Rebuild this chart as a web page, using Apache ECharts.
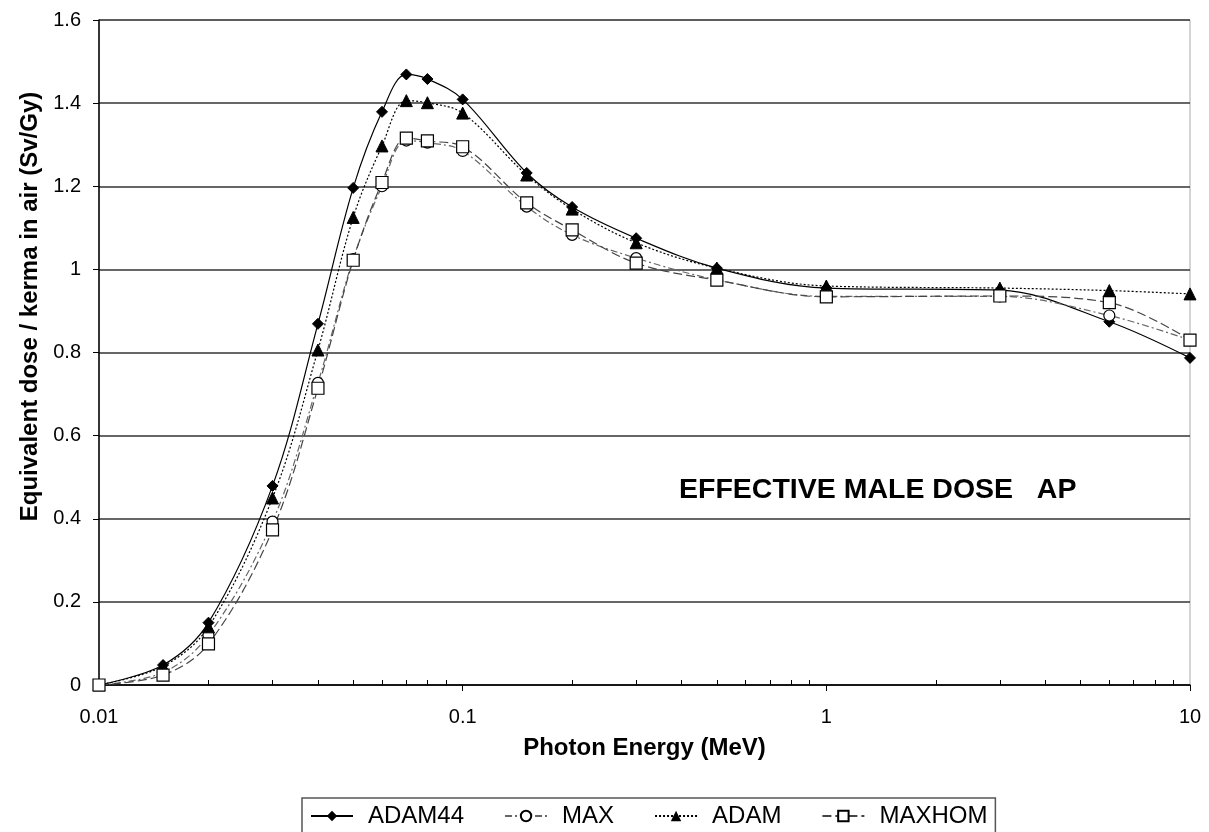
<!DOCTYPE html>
<html>
<head>
<meta charset="utf-8">
<script src="https://cdn.jsdelivr.net/npm/echarts@6/dist/echarts.min.js"></script>
<style>
  html, body { margin: 0; padding: 0; background: #fff; }
  #chart { width: 1209px; height: 832px; }
</style>
</head>
<body>
<div id="chart"></div>
<script>
  // photon energies (MeV)
  const energy = [0.01, 0.015, 0.02, 0.03, 0.04, 0.05, 0.06, 0.07, 0.08, 0.1, 0.15, 0.2, 0.3, 0.5, 1, 3, 6, 10];

  // equivalent dose / kerma in air (Sv/Gy)
  const adam44 = [0, 0.048, 0.15, 0.479, 0.869, 1.196, 1.379, 1.469, 1.458, 1.409, 1.232, 1.150, 1.075, 1.003, 0.955, 0.950, 0.874, 0.787];
  const max    = [0, 0.030, 0.120, 0.393, 0.727, 1.025, 1.200, 1.310, 1.305, 1.285, 1.151, 1.083, 1.027, 0.975, 0.935, 0.935, 0.889, 0.830];
  const adam   = [0, 0.045, 0.140, 0.450, 0.806, 1.125, 1.297, 1.406, 1.401, 1.376, 1.227, 1.145, 1.064, 1.003, 0.960, 0.955, 0.949, 0.941];
  const maxhom = [0, 0.024, 0.099, 0.373, 0.714, 1.022, 1.209, 1.316, 1.309, 1.295, 1.160, 1.095, 1.015, 0.974, 0.934, 0.936, 0.920, 0.830];

  // minor tick positions on the log axis
  const minorTicks = [0.02, 0.03, 0.04, 0.05, 0.06, 0.07, 0.08, 0.09,
                      0.2, 0.3, 0.4, 0.5, 0.6, 0.7, 0.8, 0.9,
                      2, 3, 4, 5, 6, 7, 8, 9];

  const font = 'Liberation Sans, Arial, sans-serif';

  function pairs(ys) {
    return energy.map((x, i) => [x, ys[i]]);
  }

  let myChart = echarts.init(document.getElementById('chart'));

  myChart.setOption({
    animation: false,
    backgroundColor: '#fff',
    title: {
      text: 'EFFECTIVE MALE DOSE   AP',
      left: 679,
      top: 476,
      padding: 0,
      textStyle: { fontFamily: font, fontSize: 28.5, fontWeight: 'bold', color: '#000' }
    },
    grid: {
      left: 99, right: 19, top: 20, bottom: 147,
      show: true, borderColor: '#aaa', borderWidth: 1
    },
    legend: {
      left: 302,
      top: 798,
      padding: [6, 8, 14, 8],
      itemGap: 40,
      itemWidth: 42,
      itemHeight: 13,
      borderColor: '#555',
      borderWidth: 1.5,
      textStyle: { fontFamily: font, fontSize: 24, color: '#000', padding: [0, 0, 0, 10] },
      data: ['ADAM44', 'MAX', 'ADAM', 'MAXHOM']
    },
    xAxis: [{
      type: 'log',
      logBase: 10,
      min: 0.01,
      max: 10,
      name: 'Photon Energy (MeV)',
      nameLocation: 'middle',
      nameGap: 51,
      nameTextStyle: { fontFamily: font, fontSize: 24, fontWeight: 'bold', color: '#000' },
      axisLine: { lineStyle: { color: '#000', width: 1.5 } },
      axisTick: { inside: false, length: 6, lineStyle: { color: '#000' } },
      axisLabel: { fontFamily: font, fontSize: 20, color: '#000', margin: 22 },
      splitLine: { show: false },
      minorTick: { show: false }
    }, {
      type: 'log',
      logBase: 10,
      min: 0.01,
      max: 10,
      position: 'bottom',
      axisLine: { show: false },
      axisLabel: { show: false },
      axisTick: { inside: true, length: 5, customValues: minorTicks, lineStyle: { color: '#000' } },
      splitLine: { show: false }
    }],
    yAxis: {
      type: 'value',
      min: 0,
      max: 1.6,
      interval: 0.2,
      name: 'Equivalent dose / kerma in air (Sv/Gy)',
      nameLocation: 'middle',
      nameGap: 54,
      nameTextStyle: { fontFamily: font, fontSize: 24, fontWeight: 'bold', color: '#000', padding: [0, 0, 0, 92] },
      axisLine: { show: true, lineStyle: { color: '#000', width: 1.5 } },
      axisTick: { show: true, inside: false, length: 6, lineStyle: { color: '#000' } },
      axisLabel: { fontFamily: font, fontSize: 20, color: '#000', margin: 18 },
      splitLine: { lineStyle: { color: '#333', width: 1.5 } }
    },
    series: [{
      name: 'ADAM44',
      type: 'line',
      smooth: 0.35,
      data: pairs(adam44),
      symbol: 'diamond',
      symbolSize: 11,
      itemStyle: { color: '#000', borderColor: '#000' },
      lineStyle: { color: '#000', width: 1.2, type: 'solid' }
    }, {
      name: 'MAX',
      type: 'line',
      smooth: 0.35,
      data: pairs(max),
      symbol: 'circle',
      symbolSize: 11,
      showSymbol: true,
      itemStyle: { color: '#fff', borderColor: '#000', borderWidth: 1.2 },
      lineStyle: { color: '#666', width: 1.2, type: [7, 3, 2, 3] }
    }, {
      name: 'ADAM',
      type: 'line',
      smooth: 0.35,
      data: pairs(adam),
      symbol: 'triangle',
      symbolSize: 12,
      itemStyle: { color: '#000', borderColor: '#000' },
      lineStyle: { color: '#000', width: 1.2, type: [2, 2] }
    }, {
      name: 'MAXHOM',
      type: 'line',
      smooth: 0.35,
      data: pairs(maxhom),
      symbol: 'rect',
      symbolSize: 12,
      itemStyle: { color: '#fff', borderColor: '#000', borderWidth: 1.2 },
      lineStyle: { color: '#444', width: 1.2, type: [9, 4] }
    }]
  });
</script>
</body>
</html>
